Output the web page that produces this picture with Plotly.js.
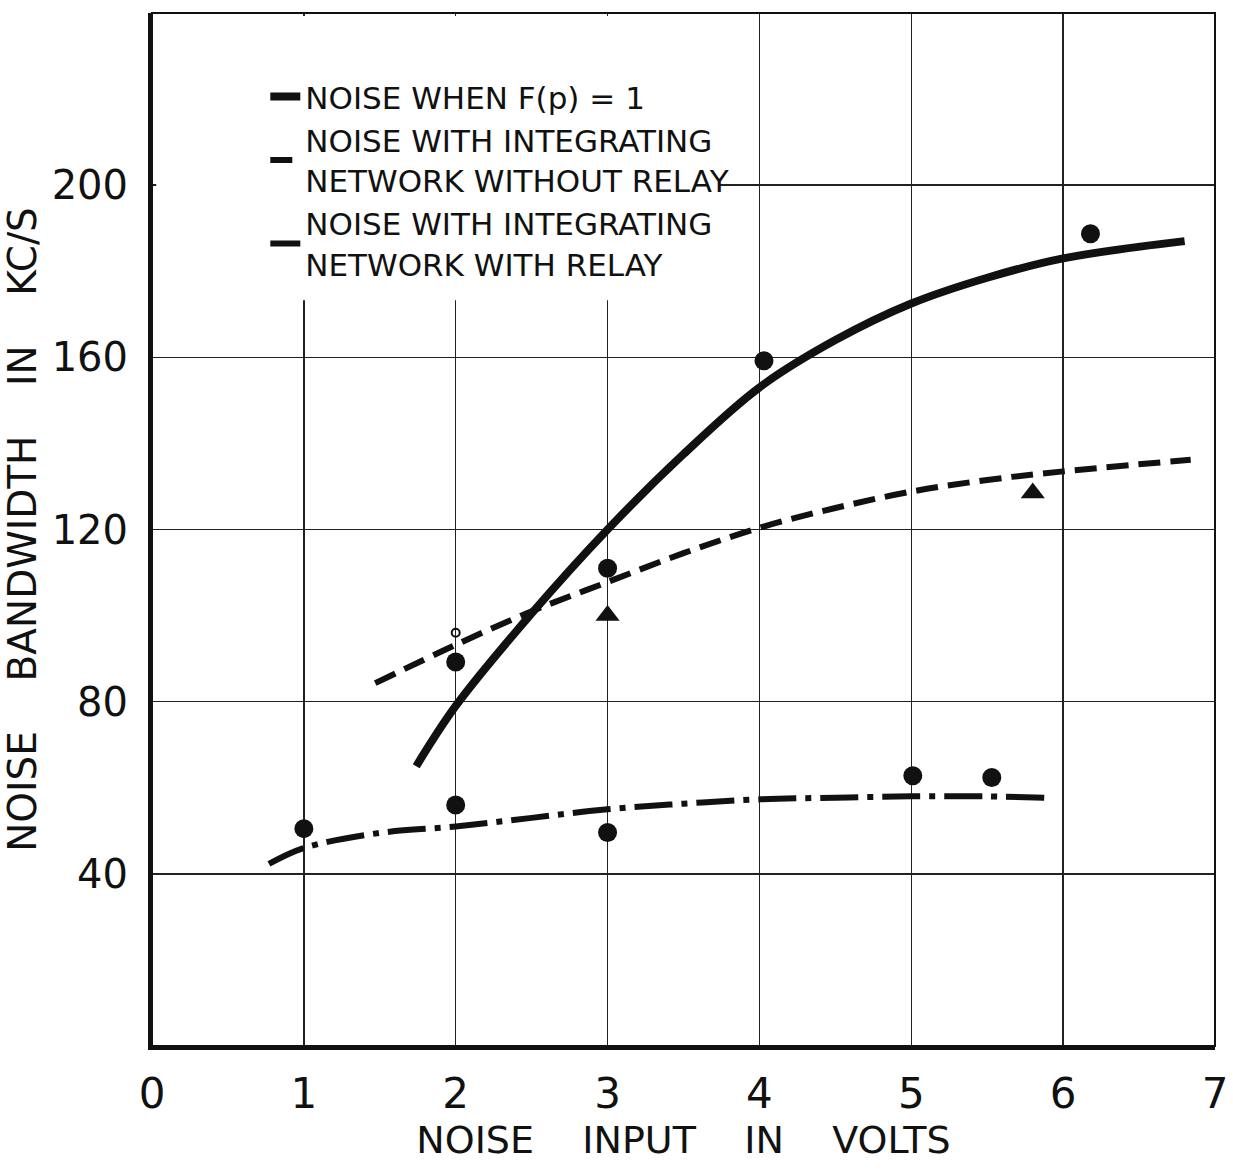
<!DOCTYPE html>
<html>
<head>
<meta charset="utf-8">
<script src="https://cdn.plot.ly/plotly-3.0.1.min.js"></script>
<style>
  html, body { margin: 0; padding: 0; background: #ffffff; }
  #chart { width: 1233px; height: 1171px; }
</style>
</head>
<body>
<div id="chart"></div>
<script>
// ---- Data ----
// Curve: noise when F(p) = 1 (solid)
var solidX = [1.74, 2.0, 2.5, 3.0, 3.5, 4.0, 4.5, 5.0, 5.5, 6.0, 6.8];
var solidY = [65, 79, 100.5, 120, 137.5, 153, 164, 172.5, 178.5, 183, 187];

// Curve: noise with integrating network without relay (dashed)
var dashX = [1.47, 2.0, 2.5, 3.0, 3.5, 4.0, 4.5, 5.0, 5.5, 6.0, 6.84];
var dashY = [84.3, 93.2, 101, 107.8, 114.5, 120.4, 125, 128.8, 131.5, 133.5, 136.2];

// Curve: noise with integrating network with relay (dash-dot)
var dashDotX = [0.77, 1.0, 1.5, 2.0, 2.5, 3.0, 3.5, 4.0, 4.5, 5.0, 5.5, 5.88];
var dashDotY = [42.3, 46, 49.5, 51, 53, 55, 56.3, 57.3, 57.7, 58, 58, 57.7];

// Measured points (filled circles)
var circleX = [1, 2, 2, 3, 3, 4.03, 5.01, 5.53, 6.18];
var circleY = [50.5, 56, 89.2, 111, 49.6, 159.2, 62.8, 62.4, 188.7];

// Measured points (triangles)
var triangleX = [3, 5.8];
var triangleY = [100, 128.5];

// Small open mark
var smallX = [2];
var smallY = [96];

// Axis ticks
var xTicks = [0, 1, 2, 3, 4, 5, 6, 7];
var xTickText = ['0', '1', '2', '3', '4', '5', '6', '7'];
var yTicks = [40, 80, 120, 160, 200];
var yTickText = ['40', '80', '120', '160', '200'];

// Legend labels
var nameSolid = 'NOISE WHEN F(p) = 1';
var nameDash = 'NOISE WITH INTEGRATING<br>NETWORK WITHOUT RELAY';
var nameDashDot = 'NOISE WITH INTEGRATING<br>NETWORK WITH RELAY';

var ink = '#111111';
var FONT = 'DejaVu Sans, Liberation Sans, Arial, sans-serif';
var SP = '\u00a0\u00a0\u00a0\u00a0';

var traces = [
  {
    x: solidX, y: solidY, name: nameSolid, type: 'scatter', mode: 'lines',
    line: { color: ink, width: 8, shape: 'spline', smoothing: 1 }
  },
  {
    x: dashX, y: dashY, name: nameDash, type: 'scatter', mode: 'lines',
    line: { color: ink, width: 6, dash: '22px,10px', shape: 'spline', smoothing: 1 }
  },
  {
    x: dashDotX, y: dashDotY, name: nameDashDot, type: 'scatter', mode: 'lines',
    line: { color: ink, width: 6, dash: '38px,9px,6px,9px', shape: 'spline', smoothing: 1 }
  },
  {
    x: circleX, y: circleY, name: 'measured', type: 'scatter', mode: 'markers',
    showlegend: false,
    marker: { symbol: 'circle', size: 19, color: ink }
  },
  {
    x: triangleX, y: triangleY, name: 'measured (triangle)', type: 'scatter', mode: 'markers',
    showlegend: false,
    marker: { symbol: 'triangle-up', size: 21, color: ink }
  },
  {
    x: smallX, y: smallY, name: 'mark', type: 'scatter', mode: 'markers',
    showlegend: false,
    marker: { symbol: 'circle-open', size: 8, color: ink, line: { width: 2, color: ink } }
  }
];

var layout = {
  width: 1233,
  height: 1171,
  paper_bgcolor: '#ffffff',
  plot_bgcolor: '#ffffff',
  margin: { l: 152, r: 18, t: 13, b: 125, pad: 0 },
  font: { family: FONT, color: ink },
  showlegend: true,
  legend: {
    x: 0.1066, y: 0.945, xanchor: 'left', yanchor: 'top',
    bgcolor: 'rgba(255,255,255,0)',
    borderwidth: 0,
    font: { family: FONT, size: 31, color: ink },
    valign: 'middle',
    tracegroupgap: 0
  },
  xaxis: {
    range: [0, 7],
    tickmode: 'array', tickvals: xTicks, ticktext: xTickText,
    ticks: '', ticklabelstandoff: 8,
    tickfont: { family: FONT, size: 42, color: ink },
    showgrid: true, gridcolor: '#222222', gridwidth: 1.5,
    zeroline: false,
    showline: true, linecolor: ink, linewidth: 4, mirror: false,
    title: { text: 'NOISE' + SP + 'INPUT' + SP + 'IN' + SP + 'VOLTS', font: { family: FONT, size: 38, color: ink }, standoff: 4 },
    fixedrange: true
  },
  yaxis: {
    range: [0, 240],
    tickmode: 'array', tickvals: yTicks, ticktext: yTickText,
    ticks: '', ticklabelstandoff: 12,
    tickfont: { family: FONT, size: 40, color: ink },
    showgrid: true, gridcolor: '#222222', gridwidth: 1.5,
    zeroline: false,
    showline: true, linecolor: ink, linewidth: 4, mirror: false,
    title: { text: 'NOISE' + SP + 'BANDWIDTH' + SP + 'IN' + SP + 'KC/S', font: { family: FONT, size: 39, color: ink }, standoff: 6 },
    fixedrange: true
  },
  shapes: [
    // white panel behind the key, hiding the grid there
    { type: 'rect', xref: 'paper', yref: 'paper', x0: 0.004, x1: 0.534, y0: 0.722, y1: 0.997,
      fillcolor: '#ffffff', line: { width: 0 }, layer: 'above' },
    // thin frame (top and right edges)
    { type: 'rect', xref: 'paper', yref: 'paper', x0: 0, x1: 1, y0: 0, y1: 1,
      fillcolor: 'rgba(0,0,0,0)', line: { color: ink, width: 2 }, layer: 'above' }
  ]
};

Plotly.newPlot('chart', traces, layout, { staticPlot: true, displayModeBar: false });
</script>
</body>
</html>
